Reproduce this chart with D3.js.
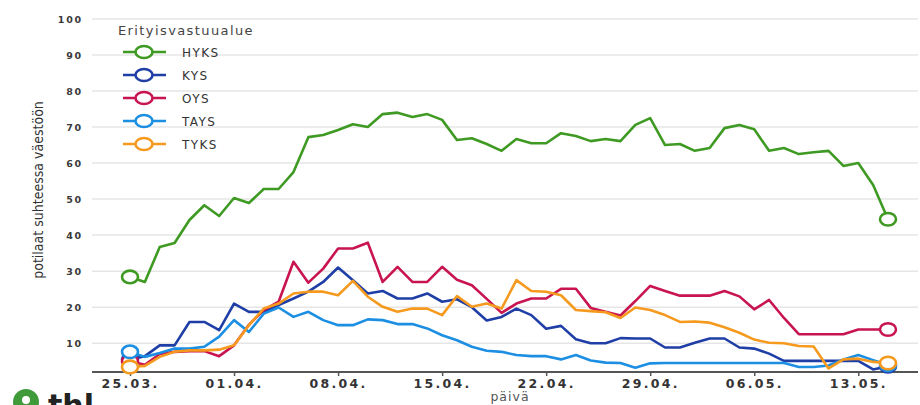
<!DOCTYPE html>
<html>
<head>
<meta charset="UTF-8">
<title>Erityisvastuualue</title>
<script src="https://cdn.jsdelivr.net/npm/d3@7"></script>
<style>
  body { margin: 0; background: #fff; }
  svg { display: block; }
</style>
</head>
<body>
<svg width="920" height="405"></svg>
<script>
// arvot luettu kuvasta, 25.03. - 15.05.
var startDay = new Date(2020, 2, 25);
var endDay = new Date(2020, 4, 15);
var days = d3.timeDay.range(startDay, d3.timeDay.offset(endDay, 1));

var names = ["HYKS", "KYS", "OYS", "TAYS", "TYKS"];
var colors = ["#3e9a22", "#1f3ea6", "#c8154f", "#1d8fe3", "#f59a1e"];

var hyks = [28.4, 27, 36.7, 37.8, 44.2, 48.3, 45.3, 50.3, 48.9, 52.8, 52.8, 57.5, 67.2, 67.8,
  69.2, 70.8, 70, 73.6, 74, 72.8, 73.6, 72, 66.4, 66.9, 65.3, 63.4, 66.7, 65.5,
  65.5, 68.3, 67.5, 66.1, 66.7, 66.1, 70.6, 72.5, 65, 65.3, 63.4, 64.2, 69.7, 70.6,
  69.4, 63.4, 64.2, 62.5, 63, 63.4, 59.2, 60, 53.9, 44.4];
var kys = [5.5, 6.4, 9.4, 9.4, 15.9, 15.9, 13.6, 21, 18.7, 18.7, 20.6, 22.4, 24.3, 27,
  31, 27.5, 23.8, 24.5, 22.4, 22.4, 23.8, 21.5, 22.2, 20, 16.3, 17.3, 19.6, 17.8,
  14, 14.8, 11.1, 10, 10, 11.4, 11.3, 11.3, 8.8, 8.8, 10.1, 11.3, 11.3, 8.8,
  8.5, 7.1, 5.1, 5.1, 5.1, 5.1, 5.1, 5.1, 2.7, 3.6];
var oys = [5, 4, 7, 7.6, 7.8, 7.8, 6.4, 9.4, 15.1, 19.2, 21.5, 32.6, 26.8, 30.7,
  36.3, 36.3, 37.9, 27, 31.2, 27, 27, 31.2, 27.6, 26.1, 22.3, 18.4, 21, 22.4,
  22.4, 25.1, 25.1, 19.8, 18.7, 17.7, 21.7, 25.9, 24.5, 23.2, 23.2, 23.2, 24.5, 23,
  19.4, 22, 17, 12.5, 12.5, 12.5, 12.5, 13.8, 13.8, 13.8];
var tays = [7.6, 6.2, 7.3, 8.5, 8.5, 9, 11.8, 16.4, 13.1, 18.2, 19.9, 17.3, 18.7, 16.4,
  15, 15, 16.6, 16.4, 15.3, 15.3, 14.1, 12.2, 10.8, 9, 7.9, 7.6, 6.7, 6.4,
  6.4, 5.5, 6.7, 5.2, 4.6, 4.5, 3.2, 4.4, 4.5, 4.5, 4.5, 4.5, 4.5, 4.5,
  4.5, 4.5, 4.5, 3.4, 3.4, 3.8, 5.5, 6.7, 5.3, 4];
var tyks = [3.4, 3.7, 6.2, 7.6, 8, 8, 8.2, 9.4, 15, 19.6, 21, 23.8, 24.3, 24.3,
  23.3, 27.3, 22.9, 20.1, 18.7, 19.6, 19.6, 17.8, 23.1, 20.1, 21, 19.6, 27.5, 24.5,
  24.3, 23.3, 19.2, 18.9, 18.6, 17, 19.9, 19.2, 17.8, 15.9, 16, 15.7, 14.4, 12.9,
  11, 10.1, 10, 9.2, 9.1, 3, 5.5, 5.7, 4.8, 4.5];

var yTicks = [10, 20, 30, 40, 50, 60, 70, 80, 90, 100];

var series = [hyks, kys, oys, tays, tyks].map(function (vals, i) {
  return { name: names[i], color: colors[i],
    points: vals.map(function (v, j) { return { date: days[j], value: v }; }) };
});

var svg = d3.select("svg");
var plotLeft = 92, plotRight = 918, plotTop = 19, plotBottom = 372;

var x = d3.scaleTime().domain([startDay, endDay]).range([130, 888]);
var y = d3.scaleLinear().domain([2, 100]).range([plotBottom, plotTop]);

// ruudukko
svg.append("g")
  .selectAll("line")
  .data(yTicks)
  .enter()
  .append("line")
  .attr("x1", plotLeft).attr("x2", plotRight)
  .attr("y1", function (d) { return y(d); })
  .attr("y2", function (d) { return y(d); })
  .attr("stroke", "#e6e6e6")
  .attr("stroke-width", 1.5);

// y-akseli
var yAxis = svg.append("g")
  .attr("transform", "translate(83,0)")
  .call(d3.axisLeft(y).tickValues(yTicks).tickSize(0).tickPadding(0));
yAxis.select(".domain").remove();
yAxis.selectAll("text")
  .attr("font-family", "DejaVu Sans, sans-serif")
  .attr("font-size", 9.5)
  .attr("font-weight", "bold")
  .attr("letter-spacing", 1.8)
  .attr("fill", "#3a3a3a");

// x-akseli
var weekTicks = d3.timeDay.range(startDay, endDay, 7);
var xAxis = svg.append("g")
  .attr("transform", "translate(0," + plotBottom + ")")
  .call(d3.axisBottom(x).tickValues(weekTicks).tickFormat(d3.timeFormat("%d.%m.")).tickSize(4).tickPadding(3));
xAxis.select(".domain").attr("d", "M" + plotLeft + ",0H" + plotRight).attr("stroke", "#555").attr("stroke-width", 2);
xAxis.selectAll(".tick line").attr("stroke", "#555").attr("stroke-width", 1.5);
xAxis.selectAll("text")
  .attr("font-family", "DejaVu Sans, sans-serif")
  .attr("font-size", 12.5)
  .attr("font-weight", "bold")
  .attr("letter-spacing", 2.3)
  .attr("fill", "#333");

// akselien otsikot
svg.append("text")
  .attr("transform", "translate(43,190) rotate(-90)")
  .attr("text-anchor", "middle")
  .attr("font-family", "Liberation Sans Narrow, DejaVu Sans Condensed, sans-serif")
  .attr("font-size", 14)
  .attr("fill", "#333")
  .text("potilaat suhteessa väestöön");

svg.append("text")
  .attr("x", 510).attr("y", 401)
  .attr("text-anchor", "middle")
  .attr("font-family", "DejaVu Sans, sans-serif")
  .attr("font-size", 12.5)
  .attr("letter-spacing", 1)
  .attr("fill", "#555")
  .text("päivä");

// viivat
var line = d3.line()
  .x(function (d) { return x(d.date); })
  .y(function (d) { return y(d.value); });

series.forEach(function (s) {
  svg.append("path")
    .datum(s.points)
    .attr("d", line)
    .attr("fill", "none")
    .attr("stroke", s.color)
    .attr("stroke-width", 2.6)
    .attr("stroke-linejoin", "round");
});

// merkit alkuun ja loppuun
series.forEach(function (s) {
  var ends = [s.points[0], s.points[s.points.length - 1]];
  svg.append("g")
    .selectAll("ellipse")
    .data(ends)
    .enter()
    .append("ellipse")
    .attr("cx", function (d) { return x(d.date); })
    .attr("cy", function (d) { return y(d.value); })
    .attr("rx", 8).attr("ry", 6.3)
    .attr("fill", "#fff")
    .attr("stroke", s.color)
    .attr("stroke-width", 2.6);
});

// selite
var legend = svg.append("g");
legend.append("text")
  .attr("x", 118).attr("y", 35)
  .attr("font-family", "DejaVu Sans, sans-serif")
  .attr("font-size", 13)
  .attr("letter-spacing", 1.4)
  .attr("fill", "#444")
  .text("Erityisvastuualue");

var item = legend.selectAll("g.item")
  .data(series)
  .enter()
  .append("g")
  .attr("class", "item")
  .attr("transform", function (d, i) { return "translate(0," + (52 + i * 23) + ")"; });

item.append("line")
  .attr("x1", 123).attr("x2", 166)
  .attr("stroke", function (d) { return d.color; })
  .attr("stroke-width", 2.6);
item.append("ellipse")
  .attr("cx", 144).attr("cy", 0)
  .attr("rx", 8.5).attr("ry", 6)
  .attr("fill", "#fff")
  .attr("stroke", function (d) { return d.color; })
  .attr("stroke-width", 2.6);
item.append("text")
  .attr("x", 182).attr("y", 4.5)
  .attr("font-family", "DejaVu Sans, sans-serif")
  .attr("font-size", 12)
  .attr("letter-spacing", 1.4)
  .attr("fill", "#333")
  .text(function (d) { return d.name; });

// thl-logo alakulmassa
var logo = svg.append("g");
logo.append("circle")
  .attr("cx", 26).attr("cy", 402).attr("r", 13)
  .attr("fill", "#3f9a3a");
logo.append("circle")
  .attr("cx", 26).attr("cy", 400).attr("r", 4)
  .attr("fill", "#fff");
logo.append("text")
  .attr("x", 48).attr("y", 416)
  .attr("font-family", "DejaVu Sans, sans-serif")
  .attr("font-size", 30)
  .attr("font-weight", "bold")
  .attr("fill", "#222")
  .text("thl");
</script>
</body>
</html>
